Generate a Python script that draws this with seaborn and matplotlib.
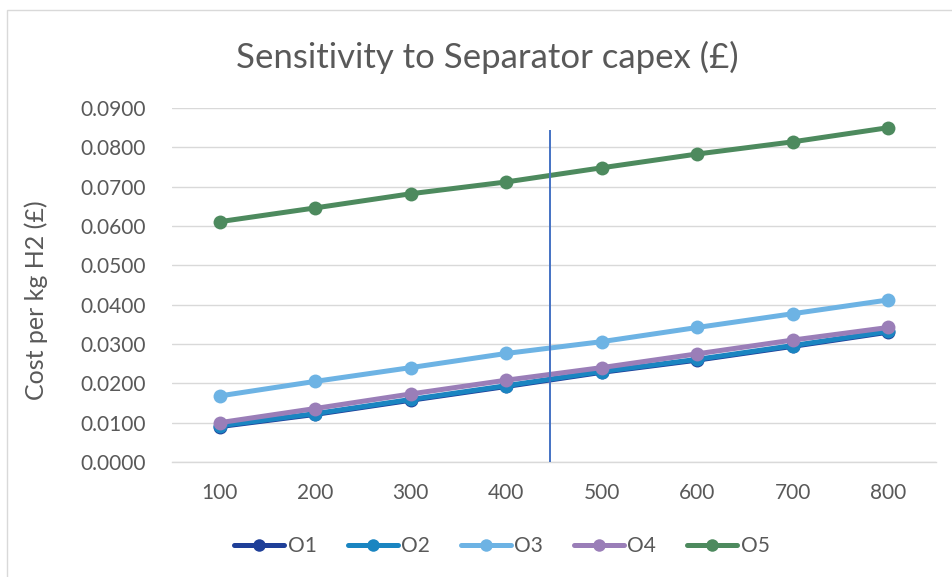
import matplotlib
matplotlib.use("Agg")
import matplotlib.pyplot as plt
from matplotlib.patches import Rectangle
import seaborn as sns
import pandas as pd

capex = [100, 200, 300, 400, 500, 600, 700, 800]
o1 = [0.0090, 0.0121, 0.0157, 0.0192, 0.0228, 0.0259, 0.0294, 0.0330]
o2 = [0.0092, 0.0123, 0.0159, 0.0194, 0.0230, 0.0261, 0.0296, 0.0332]
o3 = [0.0168, 0.0205, 0.0240, 0.0276, 0.0306, 0.0342, 0.0377, 0.0412]
o4 = [0.0100, 0.0136, 0.0173, 0.0208, 0.0240, 0.0275, 0.0310, 0.0342]
o5 = [0.0611, 0.0646, 0.0682, 0.0712, 0.0748, 0.0783, 0.0814, 0.0850]
series_names = ["O1", "O2", "O3", "O4", "O5"]
series_values = [o1, o2, o3, o4, o5]
colors = ["#1F3F98", "#1A85C1", "#6DB3E4", "#9A7EB8", "#4D8A5E"]
y_ticks = [0.0, 0.01, 0.02, 0.03, 0.04, 0.05, 0.06, 0.07, 0.08, 0.09]
marker_capex = 446  # position of the reference line on the capex axis

sns.set_theme(style="white")
plt.rcParams["font.family"] = ["Lato", "DejaVu Sans"]

W, H = 953, 577
fig = plt.figure(figsize=(W / 100, H / 100), dpi=100)
fig.patch.set_facecolor("white")

# outer chart frame
fig.patches.append(Rectangle((7 / W, -0.1), 1.2, (H - 10) / H + 0.1,
                             transform=fig.transFigure, fill=False,
                             edgecolor="#D9D9D9", linewidth=1.0))

ax = fig.add_axes([172 / W, (H - 462) / H, (936 - 172) / W, (462 - 108) / H])

idx = list(range(len(capex)))
frames = []
for name, vals in zip(series_names, series_values):
    frames.append(pd.DataFrame({"idx": idx, "cost": vals, "series": name}))
df = pd.concat(frames, ignore_index=True)

for name, col in zip(series_names, colors):
    sub = df[df["series"] == name]
    sns.lineplot(data=sub, x="idx", y="cost", ax=ax, color=col, label=name,
                 linewidth=3.6, marker="o", markersize=10,
                 markeredgewidth=0, legend=False)

# vertical reference line between the 400 and 500 categories
x_ref = (marker_capex - capex[0]) / (capex[1] - capex[0])
ax.vlines(x_ref, 0, 0.0845, color="#4472C4", linewidth=1.4, zorder=5)

ax.set_xlim(-0.5, len(capex) - 0.5)
ax.set_ylim(0, 0.09)
ax.set_yticks(y_ticks)
ax.set_yticklabels([f"{v:.4f}" for v in y_ticks])
ax.set_xticks(idx)
ax.set_xticklabels([str(c) for c in capex])
ax.grid(axis="y", color="#D9D9D9", linewidth=1.0)
ax.set_axisbelow(True)
for s in ["top", "right", "left"]:
    ax.spines[s].set_visible(False)
ax.spines["bottom"].set_color("#D9D9D9")
ax.spines["bottom"].set_linewidth(1.0)
ax.tick_params(axis="both", length=0, labelsize=15, colors="#595959")
ax.tick_params(axis="x", pad=15)
ax.tick_params(axis="y", pad=19)
ax.set_xlabel("")
ax.set_ylabel("")
fig.text(36 / W, 1 - 300 / H, "Cost per kg H2 (£)", rotation=90,
         ha="center", va="center", fontsize=18, color="#595959")

fig.text(487 / W, 1 - 57 / H, "Sensitivity to Separator capex (£)",
         ha="center", va="center", fontsize=25, color="#595959")

handles, labels = ax.get_legend_handles_labels()
fig.legend(handles, labels, loc="center", bbox_to_anchor=(502 / W, 1 - 546 / H),
           ncol=5, frameon=False, fontsize=15, handlelength=2.4,
           columnspacing=1.5, handletextpad=0.15, labelcolor="#595959",
           markerscale=0.9)

fig.savefig("out.png", dpi=100, facecolor="white")
